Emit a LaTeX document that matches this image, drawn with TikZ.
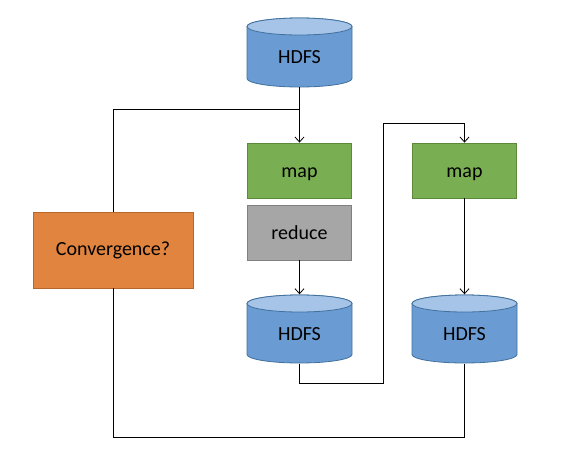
\documentclass[tikz,border=0pt]{standalone}
\usepackage{fontspec}
\setmainfont{Carlito}
\usetikzlibrary{arrows.meta}
\definecolor{cylbodyc}{HTML}{6A9BD3}
\definecolor{cyltopc}{HTML}{A6C3E8}
\definecolor{cylline}{HTML}{41719C}
\definecolor{mapc}{HTML}{7AAE52}
\definecolor{mapline}{HTML}{5A8A3A}
\definecolor{redc}{HTML}{A6A6A6}
\definecolor{redline}{HTML}{808080}
\definecolor{convc}{HTML}{E0843F}
\definecolor{convline}{HTML}{B8672C}
\tikzset{
  cylbody/.style={fill=cylbodyc,draw=cylline,line width=0.8pt},
  cyltop/.style={fill=cyltopc,draw=cylline,line width=0.8pt},
  cylbox/.style={rectangle,inner sep=0pt,minimum width=105pt,minimum height=69pt},
  box/.style={rectangle,draw,line width=0.8pt,inner sep=0pt,font=\fontsize{20}{24}\selectfont},
  mapbox/.style={box,fill=mapc,draw=mapline,minimum width=104pt,minimum height=55pt,text height=14pt,text depth=0pt},
  redbox/.style={box,fill=redc,draw=redline,minimum width=104pt,minimum height=55pt},
  convbox/.style={box,fill=convc,draw=convline,minimum width=160pt,minimum height=76pt},
  conn/.style={line width=0.8pt,black},
  arr/.style={conn,-{Straight Barb[length=5pt,width=9pt]}}
}
\newcommand\hdfscyl[5]{%
  \draw[cylbody] (#2,#4+8.5) -- (#2,#5-8.5)
    arc[start angle=180,end angle=0,x radius={(#3-#2)/2},y radius=8.5]
    -- (#3,#4+8.5)
    arc[start angle=0,end angle=-180,x radius={(#3-#2)/2},y radius=8.5] -- cycle;
  \draw[cyltop] ({(#2+#3)/2},#4+8.5) ellipse[x radius={(#3-#2)/2},y radius=8.5];
  \node[cylbox,label={[font=\fontsize{20}{24}\selectfont,yshift=-5pt]center:HDFS}] (#1) at ({(#2+#3)/2},{(#4+#5)/2}) {};
}
\begin{document}
\begin{tikzpicture}[x=1pt,y=-1pt]
\useasboundingbox (0,0) rectangle (562,472);
\hdfscyl{h1}{247}{352}{18}{87}
\hdfscyl{h2}{247}{352}{295}{363}
\hdfscyl{h3}{412}{517}{295}{363}
\node[mapbox] (m1) at (299.5,170.5) {map};
\node[redbox] (r) at (299.5,232.5) {reduce};
\node[mapbox] (m2) at (464.5,170.5) {map};
\node[convbox] (cv) at (113,250) {Convergence?};
\coordinate (j1) at (299.5,109);
\coordinate (t1) at (383,123);
\draw[arr] (h1.south) -- (m1.north);
\draw[conn] (cv.north) |- (j1);
\draw[arr] (r.south) -- (h2.north);
\draw[arr] (h2.south) -- ++(0,20) -| (t1) -| (m2.north);
\draw[arr] (m2.south) -- (h3.north);
\draw[conn] (h3.south) -- ++(0,74) -| (cv.south);
\end{tikzpicture}
\end{document}
